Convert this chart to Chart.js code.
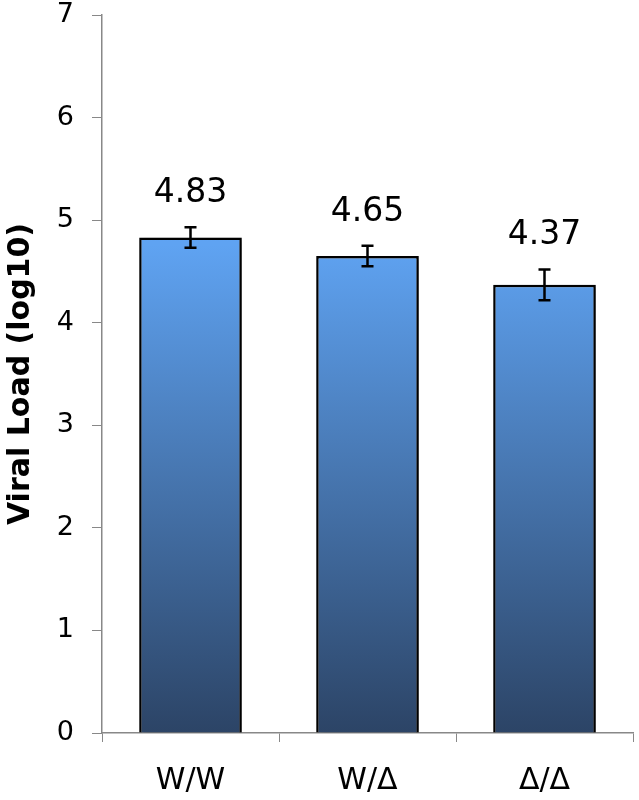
<!DOCTYPE html>
<html>
   <head>
      <meta charset="UTF-8">
      <title>Viral Load</title>
      <script src="https://cdn.jsdelivr.net/npm/chart.js@4"></script>
      <style>
         html,body{margin:0;padding:0;background:#fff;}
         #wrap{width:639px;height:800px;}
      </style>
   </head>
   <body>
        <div id="wrap"><canvas id="chart"></canvas></div>

        <script>
            const categories=["W/W","W/\u0394","\u0394/\u0394"];
            const viralLoad=[4.83,4.65,4.37];
            const errors=[0.1,0.1,0.15];
            const valueLabels=["4.83","4.65","4.37"];
            const yTicks=[0,1,2,3,4,5,6,7];

            const font="'DejaVu Sans', Verdana, sans-serif";

            function barGradient(ctx){
               const area=ctx.chart.chartArea;
               if(!area) return "#5b9be8";
               const g=ctx.chart.ctx.createLinearGradient(0,area.bottom,0,area.top);
               g.addColorStop(0,"#2c4466");
               g.addColorStop(0.68,"#5fa3f2");
               g.addColorStop(1,"#66aaff");
               return g;
            }

            // error bars + value labels above them
            const errorBars={
               id:"errorBars",
               beforeDatasetsDraw(chart){
                  const c=chart.ctx;
                  c.save();
                  c.shadowColor="rgba(0,0,0,0.35)";
                  c.shadowBlur=5;
                  c.shadowOffsetX=3;
                  c.shadowOffsetY=2;
               },
               afterDatasetsDraw(chart){
                  const c=chart.ctx;
                  c.restore();
                  const y=chart.scales.y;
                  const meta=chart.getDatasetMeta(0);
                  c.save();
                  c.strokeStyle="#000";
                  c.lineWidth=2.5;
                  meta.data.forEach((bar,i)=>{
                     const top=y.getPixelForValue(viralLoad[i]+errors[i]);
                     const bot=y.getPixelForValue(viralLoad[i]-errors[i]);
                     c.beginPath();
                     c.moveTo(bar.x,top);c.lineTo(bar.x,bot);
                     c.moveTo(bar.x-6,top);c.lineTo(bar.x+6,top);
                     c.moveTo(bar.x-6,bot);c.lineTo(bar.x+6,bot);
                     c.stroke();
                     c.fillStyle="#000";
                     c.font="33px "+font;
                     c.textAlign="center";
                     c.textBaseline="alphabetic";
                     c.fillText(valueLabels[i],bar.x,top-25);
                  });
                  c.restore();
               }
            };

            new Chart(document.getElementById("chart"),{
               type:"bar",
               data:{
                  labels:categories,
                  datasets:[{
                     data:viralLoad,
                     backgroundColor:barGradient,
                     borderColor:"#000",
                     borderWidth:2.5,
                     categoryPercentage:1,
                     barPercentage:0.58
                  }]
               },
               options:{
                  responsive:true,
                  maintainAspectRatio:false,
                  animation:false,
                  layout:{padding:{top:15,right:6,bottom:0,left:1}},
                  plugins:{legend:{display:false},tooltip:{enabled:false}},
                  scales:{
                     x:{
                        afterFit(axis){axis.height=67;},
                        grid:{drawOnChartArea:false,color:"#888",tickLength:9},
                        border:{color:"#888",width:1.5},
                        ticks:{color:"#000",font:{family:font,size:30},padding:21}
                     },
                     y:{
                        min:0,max:7,
                        afterFit(axis){axis.width=101;axis.paddingTop=0;axis.paddingBottom=0;},
                        afterBuildTicks(axis){axis.ticks=yTicks.map(v=>({value:v}));},
                        grid:{drawOnChartArea:false,color:"#888",tickLength:10},
                        border:{color:"#888",width:1.5},
                        ticks:{color:"#000",font:{family:font,size:27},padding:18},
                        title:{display:true,text:"Viral Load (log10)",color:"#000",
                           font:{family:font,size:30,weight:"bold"},padding:{top:2,bottom:12}}
                     }
                  }
               },
               plugins:[errorBars]
            });
        </script>
   </body>
</html>
